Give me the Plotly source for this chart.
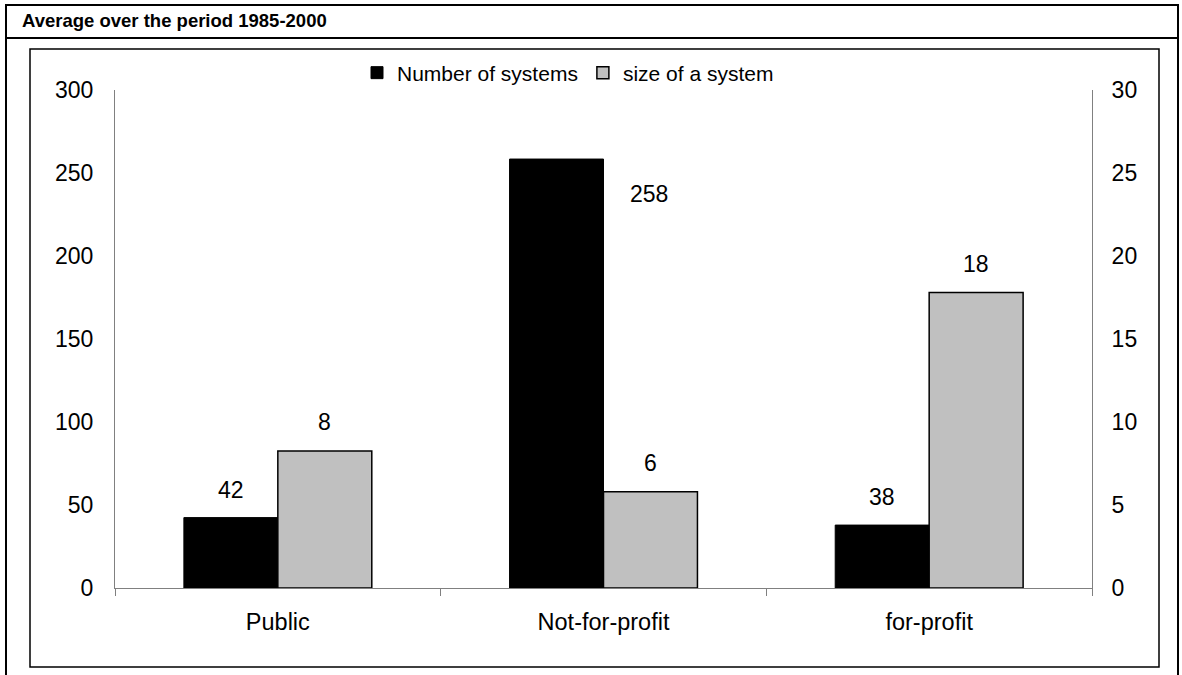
import plotly.graph_objects as go

categories = ["Public", "Not-for-profit", "for-profit"]
number_of_systems = [42.4, 258.4, 37.9]
size_of_system = [8.25, 5.8, 17.8]
left_ticks = [0, 50, 100, 150, 200, 250, 300]
right_ticks = [0, 5, 10, 15, 20, 25, 30]
title_text = "Average over the period 1985-2000"

W, H = 1182, 675
L, R, T, B = 115, 1092, 90, 588
FONT = "Liberation Sans, Arial, sans-serif"


def xp(px):
    return (px - L) / (R - L)


def yp(py):
    return (B - py) / (B - T)


fig = go.Figure()
fig.add_trace(go.Bar(
    x=categories, y=number_of_systems, name="Number of systems",
    marker=dict(color="black", line=dict(color="black", width=1)),
    offsetgroup="a", yaxis="y",
))
fig.add_trace(go.Bar(
    x=categories, y=size_of_system, name="size of a system",
    marker=dict(color="#c0c0c0", line=dict(color="black", width=1.5)),
    offsetgroup="b", yaxis="y2",
))

label_font = dict(size=23, color="black", family=FONT)
annotations = []
for c, v in zip(categories, number_of_systems):
    if v > 200:
        annotations.append(dict(x=c, y=v, xref="x", yref="y", text=f"{v:.0f}",
                                showarrow=False, xshift=45, yshift=-35,
                                font=label_font))
    else:
        annotations.append(dict(x=c, y=v, xref="x", yref="y", text=f"{v:.0f}",
                                showarrow=False, xshift=-47, yshift=28,
                                font=label_font))
for c, v in zip(categories, size_of_system):
    annotations.append(dict(x=c, y=v, xref="x", yref="y2", text=f"{v:.0f}",
                            showarrow=False, xshift=47, yshift=29,
                            font=label_font))

annotations.append(dict(x=xp(20), y=yp(20), xref="paper", yref="paper",
                        xanchor="left", yanchor="middle", showarrow=False,
                        text=f"<b>{title_text}</b>",
                        font=dict(size=18.5, color="black", family=FONT)))

shapes = [
    dict(type="rect", xref="paper", yref="paper", x0=xp(6), x1=xp(1178),
         y0=yp(5), y1=yp(720), line=dict(color="black", width=2)),
    dict(type="line", xref="paper", yref="paper", x0=xp(6), x1=xp(1178),
         y0=yp(38), y1=yp(38), line=dict(color="black", width=2)),
    dict(type="rect", xref="paper", yref="paper", x0=xp(30), x1=xp(1159),
         y0=yp(49), y1=yp(667), line=dict(color="black", width=1.5)),
]

tick_font = dict(size=23, color="black", family=FONT)
cat_font = dict(size=23.5, color="black", family=FONT)
legend_font = dict(size=21, color="black", family=FONT)

fig.update_layout(
    width=W, height=H,
    margin=dict(l=L, r=W - R, t=T, b=H - B),
    paper_bgcolor="white", plot_bgcolor="white",
    barmode="group", bargap=0.423, bargroupgap=0,
    showlegend=True,
    legend=dict(orientation="h", x=xp(357), xanchor="left", y=yp(73),
                yanchor="middle", font=legend_font, bgcolor="rgba(0,0,0,0)",
                traceorder="normal"),
    xaxis=dict(showline=True, linecolor="#808080", linewidth=1,
               ticks="outside", tickson="boundaries", ticklen=7,
               tickcolor="#808080", tickfont=cat_font, showgrid=False,
               ticklabelstandoff=13),
    yaxis=dict(range=[0, 300], tickvals=left_ticks, showline=True,
               linecolor="#808080", linewidth=1, showgrid=False,
               zeroline=False, ticks="", tickfont=tick_font,
               ticklabelstandoff=16),
    yaxis2=dict(range=[0, 30], tickvals=right_ticks, overlaying="y",
                side="right", showline=True, linecolor="#808080",
                linewidth=1, showgrid=False, zeroline=False, ticks="",
                tickfont=tick_font, ticklabelstandoff=14),
    annotations=annotations,
    shapes=shapes,
)

fig.write_html(
    "out.html",
    config={"displayModeBar": False},
    post_script="document.body.style.margin='0';document.body.style.overflow='hidden';",
)
